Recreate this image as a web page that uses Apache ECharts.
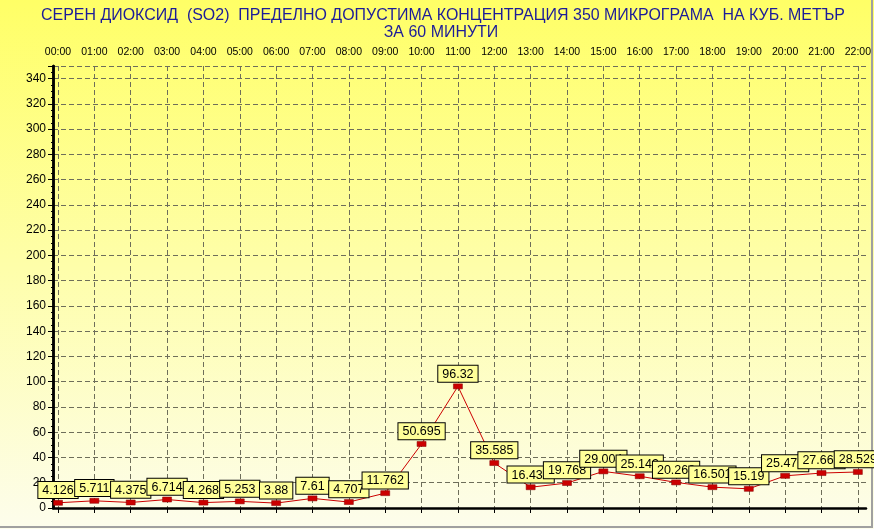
<!DOCTYPE html>
<html><head><meta charset="utf-8">
<script src="https://cdn.jsdelivr.net/npm/echarts@6/dist/echarts.min.js"></script>
<style>html,body{margin:0;padding:0;background:#fff}#c{width:874px;height:529px}</style>
</head><body><div id="c"></div>
<script>
const titleLines = ['СЕРЕН ДИОКСИД  (SO2)  ПРЕДЕЛНО ДОПУСТИМА КОНЦЕНТРАЦИЯ 350 МИКРОГРАМА  НА КУБ. МЕТЪР', 'ЗА 60 МИНУТИ'];
const hours = ['00:00','01:00','02:00','03:00','04:00','05:00','06:00','07:00','08:00','09:00','10:00','11:00','12:00','13:00','14:00','15:00','16:00','17:00','18:00','19:00','20:00','21:00','22:00'];
const so2 = [4.126,5.711,4.375,6.714,4.268,5.253,3.88,7.61,4.707,11.762,50.695,96.32,35.585,16.437,19.768,29.004,25.149,20.268,16.501,15.19,25.476,27.668,28.529];
const yMin = 0, yMax = 350, yStep = 20;

// narrow title: measure and compress horizontally to the reference width
const titleFont = '16.5px "Liberation Sans", Arial, sans-serif';
const cv = document.createElement('canvas').getContext('2d');
cv.font = titleFont;
const w1 = cv.measureText(titleLines[0]).width;
const sx = 804 / w1;

const chart = echarts.init(document.getElementById('c'));
const dash = {color:'#6e6e5a', type:[5,3], width:1};
chart.setOption({
  animation:false,
  backgroundColor:{type:'linear',x:0,y:0,x2:0,y2:1,colorStops:[{offset:0,color:'#ffff66'},{offset:1,color:'#fdfdec'}]},
  graphic:[
    {type:'text', x:443, y:15, scaleX:sx, originX:0, style:{text:titleLines[0], font:titleFont, fill:'#1c1c99', textAlign:'center', textVerticalAlign:'middle'}},
    {type:'text', x:441, y:32, scaleX:sx, originX:0, style:{text:titleLines[1], font:titleFont, fill:'#1c1c99', textAlign:'center', textVerticalAlign:'middle'}},
    {type:'line', shape:{x1:872,y1:0,x2:872,y2:528}, style:{stroke:'#a0a0a0', lineWidth:2}},
    {type:'line', shape:{x1:0,y1:527,x2:873,y2:527}, style:{stroke:'#a0a0a0', lineWidth:2}}
  ],
  grid:[
    {left:53, top:66, width:813, height:442},
    {left:58, top:66, width:802, height:442}
  ],
  xAxis:[
    {gridIndex:0, type:'value', min:0, max:1, position:'bottom',
      axisLine:{show:true, lineStyle:{color:'#000', type:[4,3], width:1}},
      axisTick:{show:false}, axisLabel:{show:false}, splitLine:{show:false}},
    {gridIndex:0, type:'value', min:0, max:1, position:'top',
      axisLine:{show:true, lineStyle:{color:'#000', width:2.5}},
      axisTick:{show:false}, axisLabel:{show:false}, splitLine:{show:false}},
    {gridIndex:1, type:'category', data:hours, boundaryGap:false, position:'top',
      axisLine:{show:false},
      axisTick:{show:true, inside:true, length:5, lineStyle:{color:'#000'}},
      axisLabel:{fontFamily:'Liberation Sans', fontSize:10.5, color:'#000', margin:8, interval:0},
      splitLine:{show:true, lineStyle:dash}}
  ],
  yAxis:[
    {gridIndex:0, type:'value', min:yMin, max:yMax, interval:yStep, position:'left',
      axisLine:{show:true, lineStyle:{color:'#000', width:2.5}},
      axisTick:{show:true, length:5, lineStyle:{color:'#000'}},
      minorTick:{show:true, splitNumber:4, length:2, lineStyle:{color:'#000'}},
      axisLabel:{fontFamily:'Liberation Sans', fontSize:12, color:'#000', margin:7, showMaxLabel:false},
      splitLine:{show:true, lineStyle:dash}},
    {gridIndex:0, type:'value', min:yMin, max:yMax, position:'right',
      axisLine:{show:true, lineStyle:{color:'#000', width:2.5}},
      axisTick:{show:false}, axisLabel:{show:false}, splitLine:{show:false}},
    {gridIndex:1, type:'value', min:yMin, max:yMax, show:false}
  ],
  series:[{
    type:'line', xAxisIndex:2, yAxisIndex:2, data:so2,
    symbol:'rect', symbolSize:[9,5],
    itemStyle:{color:'#cc0000', borderColor:'#880000', borderWidth:0.5},
    lineStyle:{color:'#cc0000', width:1},
    label:{show:true, position:'top', distance:2,
      backgroundColor:'#ffff99', borderColor:'#000', borderWidth:1,
      padding:[2,4,1,4], fontFamily:'Liberation Sans', fontSize:12.5, color:'#000'}
  }]
});
</script></body></html>
